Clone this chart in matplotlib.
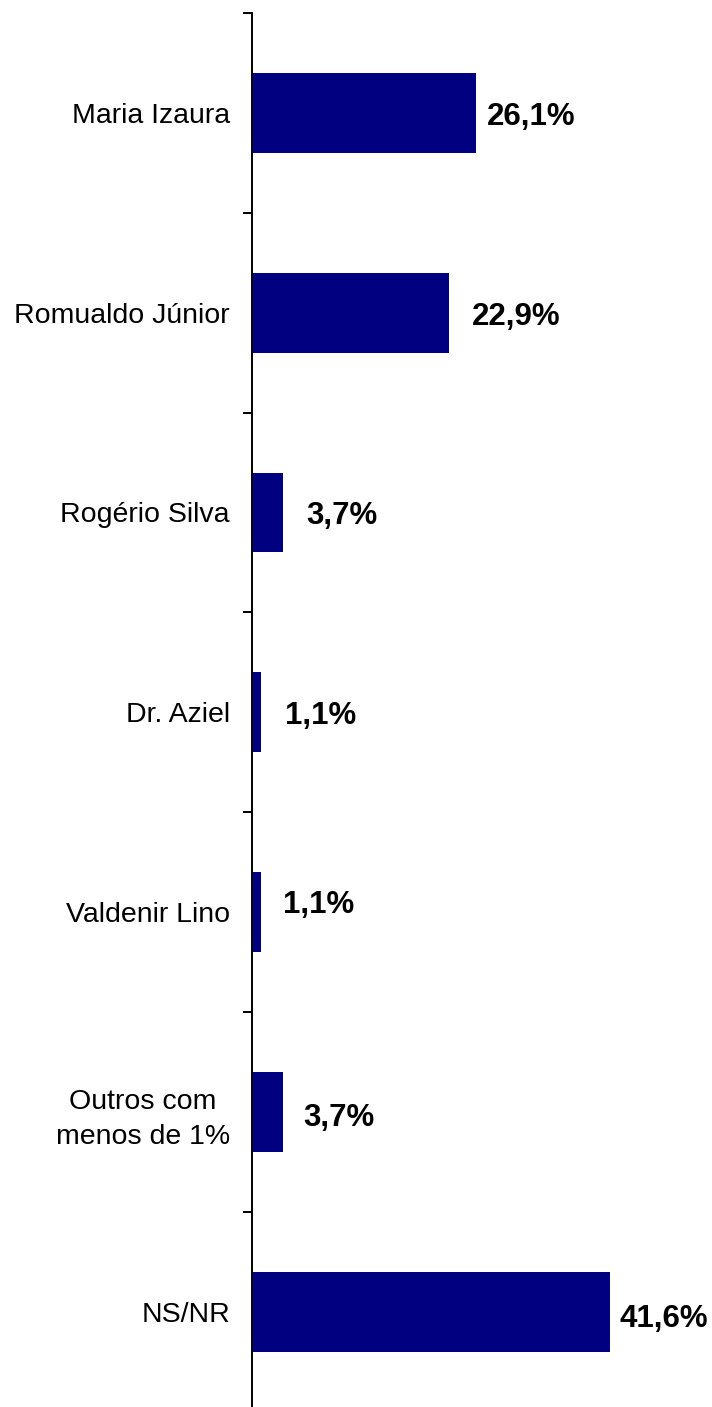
import matplotlib.pyplot as plt
import numpy as np

plt.rcParams['font.family'] = ['Liberation Sans', 'DejaVu Sans']

# dados
nomes = ['Maria Izaura', 'Romualdo Júnior', 'Rogério Silva', 'Dr. Aziel',
         'Valdenir Lino', 'Outros com\nmenos de 1%', 'NS/NR']
valores = [26.1, 22.9, 3.7, 1.1, 1.1, 3.7, 41.6]
rotulos = ['26,1%', '22,9%', '3,7%', '1,1%', '1,1%', '3,7%', '41,6%']

# deslocamento dos rotulos (pixels) - posicionados a mao como no original
desl_x = [11, 23, 23, 24, 22, 20, 10]
desl_y = [-1, -1, 0, 0, 11, -3, -4]

fig = plt.figure(figsize=(7.12, 14.07), dpi=100)
ax = fig.add_axes([251.5 / 712, 1 - 1411.6 / 1407, 1 - 251.5 / 712, 1398.6 / 1407])

y = np.arange(len(nomes))
ax.barh(y, valores, height=0.4, color='#000080')
ax.set_ylim(len(nomes) - 0.5, -0.5)
ax.set_xlim(0, 53.5)

for i in range(len(valores)):
    ax.annotate(rotulos[i], (valores[i], y[i]), xytext=(desl_x[i], desl_y[i] - 11.5),
                textcoords='offset pixels', ha='left', va='baseline',
                fontsize=22.5, fontweight='bold', color='black')

ax.set_yticks(y)
ax.set_yticklabels(nomes, fontsize=20.5)
for t in ax.get_yticklabels():
    t.set_multialignment('center')
    t.set_linespacing(1.45)
ax.set_yticks(np.arange(-0.5, len(nomes), 1), minor=True)
ax.tick_params(axis='y', which='major', length=0, pad=15.5)
ax.tick_params(axis='y', which='minor', length=6.5, width=1.4, direction='out')
ax.set_xticks([])

for s in ['top', 'right', 'bottom']:
    ax.spines[s].set_visible(False)
ax.spines['left'].set_linewidth(1.4)

plt.savefig('out.png', dpi=100)
